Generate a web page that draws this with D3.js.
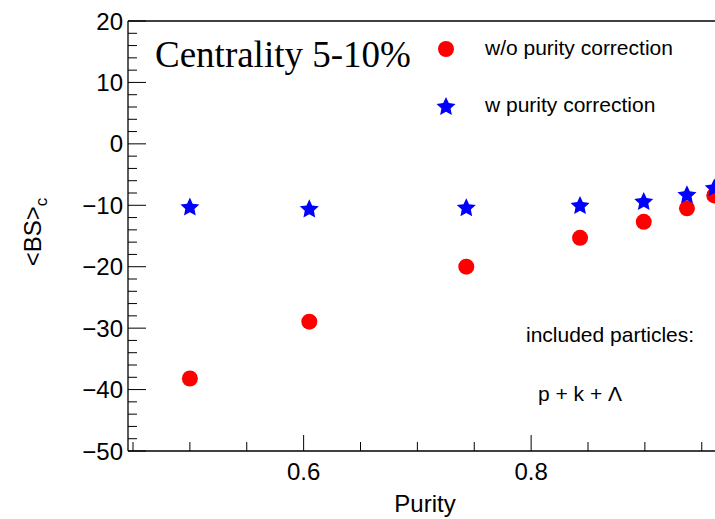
<!DOCTYPE html>
<html>
<head>
<meta charset="utf-8">
<script src="https://cdn.jsdelivr.net/npm/d3@7"></script>
<style>
  body { margin: 0; background: #fff; }
  text { font-family: "Liberation Sans", Arial, Helvetica, sans-serif; }
</style>
</head>
<body>
<div id="chart"></div>
<script>
// data
const purity = [0.5, 0.605, 0.743, 0.843, 0.899, 0.937, 0.961];
const woCorrection = [-38.2, -28.95, -20.0, -15.3, -12.7, -10.5, -8.4];
const wCorrection = [-10.2, -10.5, -10.3, -9.95, -9.3, -8.2, -7.1];
const xMajorTicks = [0.6, 0.8];
const yMajorTicks = [-50, -40, -30, -20, -10, 0, 10, 20];

const W = 715, H = 519;
const frameLeft = 128, frameTop = 21, frameBottom = 451;

const svg = d3.select("#chart")
  .append("svg")
    .attr("width", W)
    .attr("height", H);

// x: plot frame runs off the right edge of the picture
const x = d3.scaleLinear().domain([0.4456, 1.0]).range([frameLeft, frameLeft + 0.5544 * 1137.5]);
const y = d3.scaleLinear().domain([-50, 20]).range([frameBottom, frameTop]);

const xMinor = d3.range(0.45, 1.0, 0.05);
const yMinor = d3.range(-50, 20.01, 2);

// frame
svg.append("line").attr("x1", frameLeft).attr("x2", W + 5).attr("y1", frameTop).attr("y2", frameTop)
  .attr("stroke", "#000").attr("stroke-width", 1.3);
svg.append("line").attr("x1", frameLeft).attr("x2", W + 5).attr("y1", frameBottom).attr("y2", frameBottom)
  .attr("stroke", "#000").attr("stroke-width", 1.3);
svg.append("line").attr("x1", frameLeft).attr("x2", frameLeft).attr("y1", frameTop).attr("y2", frameBottom)
  .attr("stroke", "#000").attr("stroke-width", 1.3);

// y ticks
svg.append("g").selectAll("line")
  .data(yMinor)
  .enter().append("line")
    .attr("x1", frameLeft)
    .attr("x2", d => frameLeft + (Math.abs(d % 10) < 1e-6 ? 18 : 9))
    .attr("y1", d => y(d)).attr("y2", d => y(d))
    .attr("stroke", "#000").attr("stroke-width", 1);

svg.append("g").selectAll("text")
  .data(yMajorTicks)
  .enter().append("text")
    .attr("x", frameLeft - 5)
    .attr("y", d => y(d))
    .attr("dy", "0.36em")
    .attr("text-anchor", "end")
    .style("font-size", "24px")
    .text(d => d < 0 ? "\u2212" + Math.abs(d) : d);

// x ticks
svg.append("g").selectAll("line")
  .data(xMinor)
  .enter().append("line")
    .attr("x1", d => x(d)).attr("x2", d => x(d))
    .attr("y1", frameBottom)
    .attr("y2", d => frameBottom - (xMajorTicks.some(m => Math.abs(m - d) < 1e-6) ? 16 : 9))
    .attr("stroke", "#000").attr("stroke-width", 1);

svg.append("g").selectAll("text")
  .data(xMajorTicks)
  .enter().append("text")
    .attr("x", d => x(d))
    .attr("y", frameBottom + 29)
    .attr("text-anchor", "middle")
    .style("font-size", "24px")
    .text(d => d.toFixed(1));

// axis titles
svg.append("text")
  .attr("x", 425).attr("y", 512)
  .attr("text-anchor", "middle")
  .style("font-size", "24px")
  .text("Purity");

const yTitle = svg.append("text")
  .attr("transform", "translate(41,232) rotate(-90)")
  .attr("text-anchor", "middle")
  .style("font-size", "24px");
yTitle.append("tspan").text("<BS>");
yTitle.append("tspan").attr("dy", 6).style("font-size", "17px").text("c");

// fat ROOT-like star marker (inner radius about half the outer)
const fatStar = {
  draw(context, size) {
    const R = Math.sqrt(size), r = R * 0.48;
    for (let k = 0; k < 10; k++) {
      const a = -Math.PI / 2 + k * Math.PI / 5;
      const rad = k % 2 ? r : R;
      if (k === 0) context.moveTo(rad * Math.cos(a), rad * Math.sin(a));
      else context.lineTo(rad * Math.cos(a), rad * Math.sin(a));
    }
    context.closePath();
  }
};
const star = d3.symbol().type(fatStar).size(100);

// points
svg.append("g").selectAll("circle")
  .data(purity)
  .enter().append("circle")
    .attr("cx", d => x(d))
    .attr("cy", (d, i) => y(woCorrection[i]))
    .attr("r", 8)
    .attr("fill", "#ff0000");

svg.append("g").selectAll("path")
  .data(purity)
  .enter().append("path")
    .attr("d", star)
    .attr("transform", (d, i) => `translate(${x(d)},${y(wCorrection[i]) + 1})`)
    .attr("fill", "#0000ff");

// labels
svg.append("text")
  .attr("x", 155).attr("y", 67)
  .style("font-family", "'Liberation Serif', 'Times New Roman', serif")
  .style("font-size", "37px")
  .text("Centrality 5-10%");

// legend
svg.append("circle").attr("cx", 446).attr("cy", 49).attr("r", 8).attr("fill", "#ff0000");
svg.append("text").attr("x", 485).attr("y", 55).style("font-size", "21px")
  .text("w/o purity correction");
svg.append("path").attr("d", star).attr("transform", "translate(446,107)").attr("fill", "#0000ff");
svg.append("text").attr("x", 485).attr("y", 112).style("font-size", "21px")
  .text("w purity correction");

svg.append("text").attr("x", 526).attr("y", 342).style("font-size", "21px")
  .text("included particles:");
svg.append("text").attr("x", 538).attr("y", 401).style("font-size", "21px")
  .text("p + k + \u039B");
</script>
</body>
</html>
